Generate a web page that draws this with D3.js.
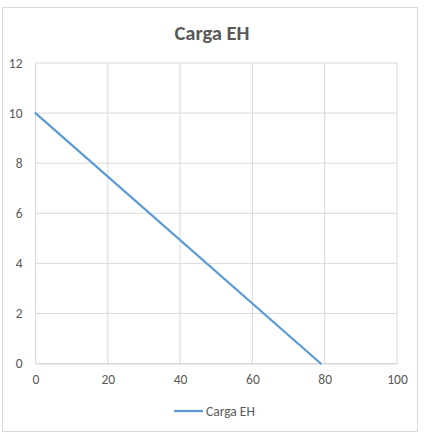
<!DOCTYPE html>
<html>
<head>
<meta charset="utf-8">
<script src="https://cdn.jsdelivr.net/npm/d3@7"></script>
<style>
	body { margin: 0; background: #fff; }
	svg text { font-family: Calibri, Carlito, Lato, sans-serif; fill: #595959; }
</style>
</head>
<body>
<svg id="canvas" width="426" height="437"></svg>
<script>
var seriesName = "Carga EH";
var xValues = [0, 78.9];
var yValues = [10, 0];
var xTicks = [0, 20, 40, 60, 80, 100];
var yTicks = [0, 2, 4, 6, 8, 10, 12];

var svg = d3.select("#canvas");
var margin = {left: 35.5, right: 397, top: 63, bottom: 363.5};

// chart frame
svg.append("rect")
	.attr("x", 2.5).attr("y", 7.5)
	.attr("width", 415).attr("height", 424)
	.attr("fill", "#fff")
	.attr("stroke", "#d9d9d9");

var x = d3.scaleLinear().domain([0, 100]).range([margin.left, margin.right]);
var y = d3.scaleLinear().domain([0, 12]).range([margin.bottom, margin.top]);

// gridlines
svg.append("g")
	.selectAll("line.v")
	.data(xTicks)
	.enter().append("line")
	.attr("x1", function(d) { return x(d); })
	.attr("x2", function(d) { return x(d); })
	.attr("y1", margin.top).attr("y2", margin.bottom)
	.attr("stroke", "#d9d9d9").attr("stroke-width", 1);

svg.append("g")
	.selectAll("line.h")
	.data(yTicks)
	.enter().append("line")
	.attr("x1", margin.left).attr("x2", margin.right)
	.attr("y1", function(d) { return y(d); })
	.attr("y2", function(d) { return y(d); })
	.attr("stroke", "#d9d9d9").attr("stroke-width", 1);

// axes
var xAxis = svg.append("g")
	.attr("transform", "translate(0," + margin.bottom + ")")
	.call(d3.axisBottom(x).tickValues(xTicks).tickSize(0).tickPadding(11));
xAxis.select(".domain").attr("stroke", "#d9d9d9");
xAxis.selectAll("text").style("font-size", "13.5px").attr("fill", "#595959");

var yAxis = svg.append("g")
	.attr("transform", "translate(" + margin.left + ",0)")
	.call(d3.axisLeft(y).tickValues(yTicks).tickSize(0).tickPadding(13));
yAxis.select(".domain").remove();
yAxis.selectAll("text").style("font-size", "13.5px").attr("fill", "#595959");

// series line
var pts = xValues.map(function(v, i) { return [v, yValues[i]]; });
var line = d3.line()
	.x(function(d) { return x(d[0]); })
	.y(function(d) { return y(d[1]); });

svg.append("path")
	.datum(pts)
	.attr("d", line)
	.attr("fill", "none")
	.attr("stroke", "#5b9bd5")
	.attr("stroke-width", 2.25)
	.attr("stroke-linecap", "round");

// title
svg.append("text")
	.attr("x", 212).attr("y", 40)
	.attr("text-anchor", "middle")
	.style("font-size", "20.5px")
	.style("font-weight", "bold")
	.text(seriesName);

// legend
var legend = svg.append("g");
legend.append("line")
	.attr("x1", 174).attr("x2", 203)
	.attr("y1", 411).attr("y2", 411)
	.attr("stroke", "#5b9bd5").attr("stroke-width", 2.25);
legend.append("text")
	.attr("x", 206).attr("y", 415.5)
	.style("font-size", "13.5px")
	.text(seriesName);
</script>
</body>
</html>
